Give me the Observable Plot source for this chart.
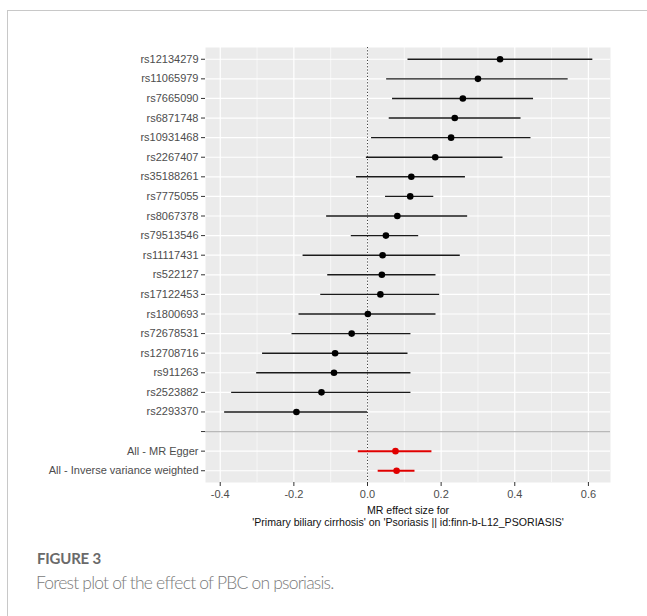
<!DOCTYPE html>
<html>
<head>
<meta charset="utf-8">
<script src="https://cdn.jsdelivr.net/npm/d3@7"></script>
<script src="https://cdn.jsdelivr.net/npm/@observablehq/plot@0.6"></script>
<style>
  html, body { margin: 0; padding: 0; background: #fff; }
  #card { position: relative; width: 647px; height: 616px; overflow: hidden; }
  #frameTop { position: absolute; left: 7px; top: 10px; width: 640px; height: 0; border-top: 1px solid #c8c8c8; }
  #frameLeft { position: absolute; left: 7px; top: 10px; width: 0; height: 606px; border-left: 1px solid #c8c8c8; }
  #chart { position: absolute; left: 0; top: 0; }
  #figno { position: absolute; left: 37px; top: 551px; font-family: Lato, "Open Sans", sans-serif; font-weight: 700; font-size: 15px; line-height: 15px; color: #6a6a6a; letter-spacing: -0.2px; }
  #figcap { position: absolute; left: 36px; top: 573px; font-family: Lato, "Open Sans", sans-serif; font-weight: 300; font-size: 17.5px; line-height: 19px; color: #7a7a7a; letter-spacing: -0.8px; }
</style>
</head>
<body>
<div id="card">
  <div id="frameTop"></div>
  <div id="frameLeft"></div>
  <div id="chart"></div>
  <div id="figno">FIGURE 3</div>
  <div id="figcap">Forest plot of the effect of PBC on psoriasis.</div>
</div>
<script>
// SNP-level estimates (top to bottom)
const snps = ["rs12134279","rs11065979","rs7665090","rs6871748","rs10931468","rs2267407","rs35188261","rs7775055","rs8067378","rs79513546","rs11117431","rs522127","rs17122453","rs1800693","rs72678531","rs12708716","rs911263","rs2523882","rs2293370"];
const snpB  = [0.360, 0.300, 0.259, 0.237, 0.227, 0.184, 0.119, 0.116, 0.081, 0.050, 0.041, 0.039, 0.035, 0.001, -0.043, -0.088, -0.091, -0.125, -0.193];
const snpLo = [0.110, 0.052, 0.068, 0.059, 0.011, -0.003, -0.030, 0.049, -0.111, -0.044, -0.175, -0.108, -0.127, -0.186, -0.205, -0.285, -0.301, -0.369, -0.388];
const snpHi = [0.612, 0.545, 0.451, 0.417, 0.444, 0.368, 0.266, 0.180, 0.272, 0.139, 0.252, 0.186, 0.196, 0.186, 0.118, 0.110, 0.118, 0.118, 0.000];

// Summary estimates
const methods = ["All - MR Egger", "All - Inverse variance weighted"];
const methB  = [0.076, 0.079];
const methLo = [-0.025, 0.029];
const methHi = [0.175, 0.129];

// Axis ticks
const xMajor = [-0.4, -0.2, 0.0, 0.2, 0.4, 0.6];
const xMinor = [-0.3, -0.1, 0.1, 0.3, 0.5];
const blankRow = "";

const xTitle = "MR effect size for\n'Primary biliary cirrhosis' on 'Psoriasis || id:finn-b-L12_PSORIASIS'";

const snpData = snps.map((s, i) => ({label: s, b: snpB[i], lo: snpLo[i], hi: snpHi[i]}));
const methData = methods.map((s, i) => ({label: s, b: methB[i], lo: methLo[i], hi: methHi[i]}));
const yDomain = [...snps, blankRow, ...methods];

const chart = Plot.plot({
  width: 647,
  height: 530,
  marginLeft: 205,
  marginRight: 37,
  marginTop: 47,
  marginBottom: 48,
  style: {fontFamily: "'Liberation Sans', Arial, sans-serif", fontSize: "11px", color: "#4d4d4d", background: "transparent"},
  x: {domain: [-0.44, 0.66]},
  y: {type: "point", domain: yDomain, padding: 0.6, round: false},
  marks: [
    Plot.frame({fill: "#ebebeb", stroke: null}),
    Plot.gridX(xMinor, {stroke: "#fff", strokeOpacity: 1, strokeWidth: 0.6}),
    Plot.gridX(xMajor, {stroke: "#fff", strokeOpacity: 1, strokeWidth: 1.2}),
    Plot.gridY(yDomain.filter(d => d !== blankRow), {stroke: "#fff", strokeOpacity: 1, strokeWidth: 1.2}),
    Plot.ruleY([blankRow], {stroke: "#b8b8b8", strokeWidth: 1.2}),
    Plot.ruleX([0], {stroke: "#444", strokeWidth: 1, strokeDasharray: "1.2,2"}),
    Plot.ruleY(snpData, {y: "label", x1: "lo", x2: "hi", stroke: "#1a1a1a", strokeWidth: 1.4}),
    Plot.dot(snpData, {y: "label", x: "b", r: 3.3, fill: "#000", stroke: null}),
    Plot.ruleY(methData, {y: "label", x1: "lo", x2: "hi", stroke: "#e00000", strokeWidth: 2}),
    Plot.dot(methData, {y: "label", x: "b", r: 3.3, fill: "#e00000", stroke: null}),
    Plot.axisX(xMajor, {tickSize: 4, tickPadding: 4, tickFormat: d => d.toFixed(1), label: null, stroke: "#333", fill: "#4d4d4d", fontSize: 11}),
    Plot.axisY(yDomain, {tickSize: 4, tickPadding: 3, tickFormat: d => d, label: null, stroke: "#333", fill: "#4d4d4d", fontSize: 11}),
    Plot.text([xTitle], {frameAnchor: "bottom", dy: 24, lineAnchor: "top", lineHeight: 1.05, fill: "#111", fontSize: 10.6, text: d => d})
  ]
});
document.getElementById("chart").appendChild(chart);
</script>
</body>
</html>
